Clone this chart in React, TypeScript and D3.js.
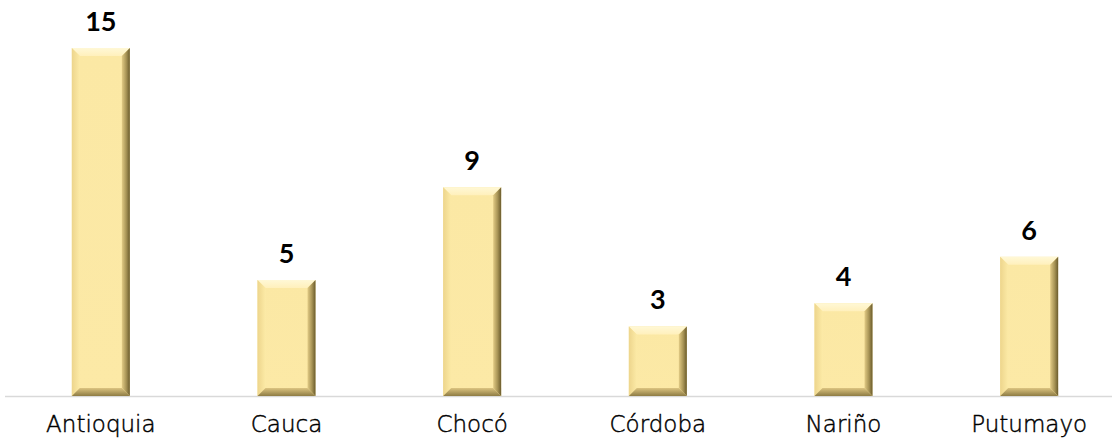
import React from "react";
import * as d3 from "d3";

const categories = ["Antioquia", "Cauca", "Chocó", "Córdoba", "Nariño", "Putumayo"];
const values = [15, 5, 9, 3, 4, 6];

const W = 1112;
const H = 442;
const BASE = 396;
const BAR_W = 58;
const BEVEL = 8;

export default function App() {
  const x = d3.scaleBand<string>().domain(categories).range([8, 1122]).padding(0);
  const y = d3.scaleLinear().domain([0, 15]).range([BASE, 48]);

  return (
    <div style={{ position: "fixed", left: 0, top: 0, width: W, height: H, background: "#fff" }}>
      <svg width={W} height={H} style={{ display: "block" }}>
        <defs>
          <linearGradient id="gTop" x1="0" y1="0" x2="0" y2="1">
            <stop offset="0" stopColor="#FFF8D6" />
            <stop offset="1" stopColor="#FFF0BC" />
          </linearGradient>
          <linearGradient id="gLeft" x1="0" y1="0" x2="1" y2="0">
            <stop offset="0" stopColor="#EDD58C" />
            <stop offset="1" stopColor="#FCEAA6" />
          </linearGradient>
          <linearGradient id="gRight" x1="0" y1="0" x2="1" y2="0">
            <stop offset="0" stopColor="#E2CB85" />
            <stop offset="0.55" stopColor="#A89456" />
            <stop offset="1" stopColor="#6A5B2C" />
          </linearGradient>
          <linearGradient id="gBottom" x1="0" y1="0" x2="0" y2="1">
            <stop offset="0" stopColor="#DCC480" />
            <stop offset="1" stopColor="#8E7C44" />
          </linearGradient>
          <linearGradient id="gFace" x1="0" y1="0" x2="0" y2="1">
            <stop offset="0" stopColor="#FBE8A4" />
            <stop offset="1" stopColor="#FCE9A6" />
          </linearGradient>
        </defs>

        <line x1={5} x2={W} y1={BASE + 0.5} y2={BASE + 0.5} stroke="#D9D9D9" strokeWidth={1.5} />

        {categories.map((c, i) => {
          const cx = (x(c) as number) + x.bandwidth() / 2;
          const x0 = cx - BAR_W / 2;
          const x1 = cx + BAR_W / 2;
          const y0 = y(values[i]);
          const y1 = y(0);
          const b = Math.min(BEVEL, (y1 - y0) / 2);
          const pts = (arr: number[][]) => arr.map((p) => p.join(",")).join(" ");
          return (
            <g key={c}>
              <rect x={x0} y={y0} width={BAR_W} height={y1 - y0} fill="url(#gFace)" />
              <polygon points={pts([[x0, y0], [x1, y0], [x1 - b, y0 + b], [x0 + b, y0 + b]])} fill="url(#gTop)" />
              <polygon points={pts([[x0, y0], [x0 + b, y0 + b], [x0 + b, y1 - b], [x0, y1]])} fill="url(#gLeft)" />
              <polygon points={pts([[x1, y0], [x1, y1], [x1 - b, y1 - b], [x1 - b, y0 + b]])} fill="url(#gRight)" />
              <polygon points={pts([[x0, y1], [x0 + b, y1 - b], [x1 - b, y1 - b], [x1, y1]])} fill="url(#gBottom)" />
              <text
                x={cx}
                y={y0 - 17}
                textAnchor="middle"
                fontFamily="Lato, 'Open Sans', sans-serif"
                fontWeight="bold"
                fontSize={27}
                fill="#000"
              >
                {values[i]}
              </text>
              <text
                x={cx}
                y={432}
                textAnchor="middle"
                fontFamily="'DejaVu Sans', sans-serif"
                fontWeight={300}
                fontSize={23}
                fill="#000"
                stroke="#000"
                strokeWidth={0.45}
              >
                {c}
              </text>
            </g>
          );
        })}
      </svg>
    </div>
  );
}
